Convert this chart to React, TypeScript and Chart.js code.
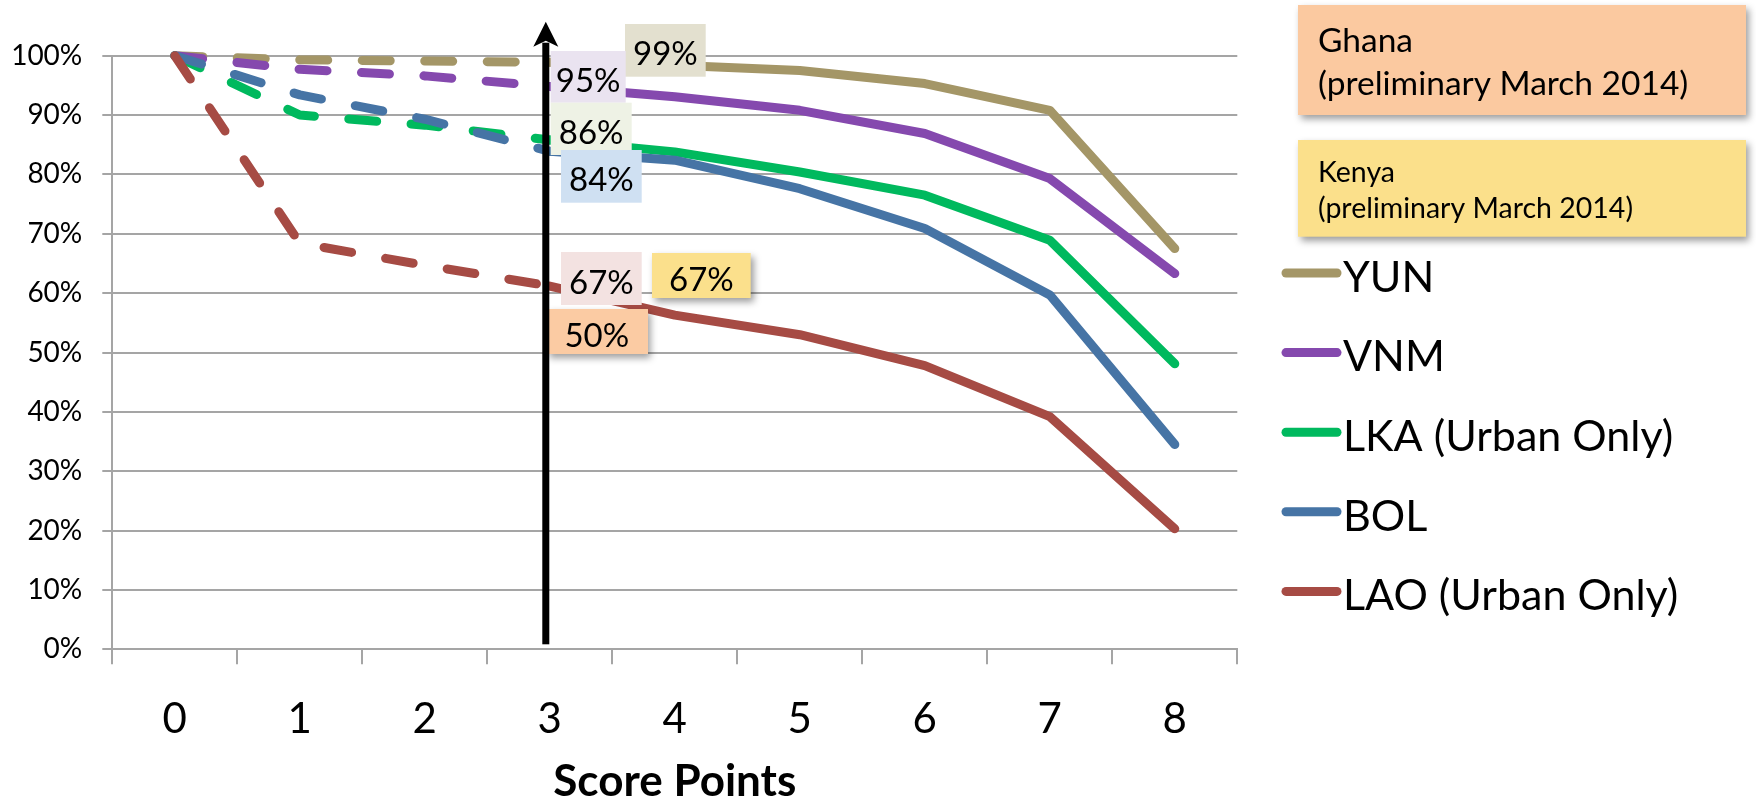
import { useEffect, useRef } from 'react';
import { Chart, registerables } from 'chart.js';

Chart.register(...registerables);

// Score thresholds along the x axis
const scorePoints = ['0', '1', '2', '3', '4', '5', '6', '7', '8'];

// Share of households (%) at or above each score
const yunShare = [100, 99.3, 99.1, 98.9, 98.4, 97.5, 95.3, 90.8, 67.5];
const vnmShare = [100, 97.7, 96.6, 94.8, 93.1, 90.8, 86.9, 79.3, 63.3];
const lkaShare = [100, 90.0, 88.3, 85.8, 83.8, 80.4, 76.5, 68.9, 48.1];
const bolShare = [100, 93.4, 89.3, 83.9, 82.4, 77.6, 70.9, 59.7, 34.5];
const laoShare = [100, 68.4, 64.7, 61.2, 56.3, 53.0, 47.8, 39.2, 20.3];

const seriesNames = ['YUN', 'VNM', 'LKA (Urban Only)', 'BOL', 'LAO (Urban Only)'];
const seriesValues = [yunShare, vnmShare, lkaShare, bolShare, laoShare];
const seriesColors = ['#A49667', '#8549AE', '#00B95E', '#4674A5', '#A64B44'];

// Segments up to this score are dashed, the rest solid
const cutoffScore = 3;

// Percent axis
const yMin = 0;
const yMax = 100;
const yStep = 10;

// Value callouts beside the cut-off arrow
const calloutTexts = ['99%', '95%', '86%', '84%', '67%', '67%', '50%'];
const calloutFills = ['#E3E0CF', '#EAE3F0', '#EEF2E5', '#CFE0F2', '#F3E2E1', '#FBE08C', '#FBCBA3'];

// Country notes in the top right corner
const noteTexts = [
  ['Ghana', '(preliminary March 2014)'],
  ['Kenya', '(preliminary March 2014)'],
];
const noteFills = ['#FBC9A0', '#FBE08B'];

const FONT = 'Lato, "Open Sans", sans-serif';

// Box geometry for the callouts: dx from the cut-off score centre, dy from the plot top
const calloutLayout = [
  { dx: 75.2, dy: -31.7, w: 80.7, h: 52.7, shadow: false },
  { dx: 0.9, dy: -4.7, w: 75, h: 51.7, shadow: false },
  { dx: 0.9, dy: 47, w: 81, h: 52.3, shadow: false },
  { dx: 11.2, dy: 94.3, w: 80.7, h: 52.7, shadow: false },
  { dx: 11.2, dy: 196.3, w: 80.7, h: 53, shadow: false },
  { dx: 102.2, dy: 197.3, w: 98.7, h: 45, shadow: true },
  { dx: -4.3, dy: 253.3, w: 102.5, h: 45, shadow: true },
];

const noteLayout = [
  { x: 1298, y: 5, w: 448, h: 110, size: 33.5, baselines: [51.7, 95] },
  { x: 1298, y: 140, w: 448, h: 96.7, size: 28.5, baselines: [181.7, 218.3] },
];

const legendLayout = { lineX0: 1286, lineX1: 1337, textX: 1343, firstBaseline: 291.7, rowGap: 79.6, size: 43 };

function withShadow(ctx: CanvasRenderingContext2D, on: boolean) {
  if (on) {
    ctx.shadowColor = 'rgba(0,0,0,0.38)';
    ctx.shadowBlur = 7;
    ctx.shadowOffsetX = 3;
    ctx.shadowOffsetY = 4;
  } else {
    ctx.shadowColor = 'transparent';
    ctx.shadowBlur = 0;
    ctx.shadowOffsetX = 0;
    ctx.shadowOffsetY = 0;
  }
}

const overlayPlugin = {
  id: 'cutoffOverlay',
  afterDatasetsDraw(chart: any) {
    const { ctx, chartArea, scales } = chart;
    const xs = scales.x;
    const cx = xs.getPixelForValue(cutoffScore);

    ctx.save();
    // callout boxes
    calloutLayout.forEach((b, i) => {
      const left = cx + b.dx;
      const top = chartArea.top + b.dy;
      withShadow(ctx, b.shadow);
      ctx.fillStyle = calloutFills[i];
      ctx.fillRect(left, top, b.w, b.h);
      withShadow(ctx, false);
      ctx.fillStyle = '#000';
      ctx.font = `33px ${FONT}`;
      ctx.textAlign = 'center';
      ctx.textBaseline = 'alphabetic';
      ctx.fillText(calloutTexts[i], left + b.w / 2, top + b.h / 2 + 15);
    });

    // cut-off arrow
    const ax = cx - 4;
    const tipY = chartArea.top - 34;
    const baseY = tipY + 25;
    ctx.fillStyle = '#000';
    ctx.fillRect(ax - 3.5, baseY - 4, 7, chartArea.bottom - 5 - (baseY - 4));
    ctx.beginPath();
    ctx.moveTo(ax, tipY);
    ctx.lineTo(ax + 12.5, baseY);
    ctx.lineTo(ax, baseY - 6);
    ctx.lineTo(ax - 12.5, baseY);
    ctx.closePath();
    ctx.fill();

    // country notes
    noteLayout.forEach((n, i) => {
      withShadow(ctx, true);
      ctx.fillStyle = noteFills[i];
      ctx.fillRect(n.x, n.y, n.w, n.h);
      withShadow(ctx, false);
      ctx.fillStyle = '#000';
      ctx.font = `${n.size}px ${FONT}`;
      ctx.textAlign = 'left';
      ctx.textBaseline = 'alphabetic';
      noteTexts[i].forEach((t, k) => ctx.fillText(t, n.x + 20, n.baselines[k]));
    });

    // series legend
    chart.data.datasets.forEach((ds: any, i: number) => {
      const base = legendLayout.firstBaseline + i * legendLayout.rowGap;
      const ly = base - 18.7;
      ctx.strokeStyle = ds.borderColor;
      ctx.lineWidth = 9;
      ctx.lineCap = 'round';
      ctx.beginPath();
      ctx.moveTo(legendLayout.lineX0, ly);
      ctx.lineTo(legendLayout.lineX1, ly);
      ctx.stroke();
      ctx.fillStyle = '#000';
      ctx.font = `${legendLayout.size}px ${FONT}`;
      ctx.textAlign = 'left';
      ctx.textBaseline = 'alphabetic';
      ctx.fillText(ds.label, legendLayout.textX, base);
    });
    ctx.restore();
  },
};

export default function App() {
  const canvasRef = useRef<HTMLCanvasElement | null>(null);

  useEffect(() => {
    const canvas = canvasRef.current;
    if (!canvas) return;
    const gridColor = '#A5A5A5';

    const chart = new Chart(canvas, {
      type: 'line',
      data: {
        labels: scorePoints,
        datasets: seriesNames.map((name, i) => ({
          label: name,
          data: seriesValues[i],
          borderColor: seriesColors[i],
          backgroundColor: seriesColors[i],
          borderWidth: 9,
          borderCapStyle: 'round',
          borderJoinStyle: 'round',
          pointRadius: 0,
          pointHoverRadius: 0,
          tension: 0,
          fill: false,
          clip: false,
          order: seriesNames.length - i,
          segment: {
            borderDash: (c: any) => (c.p1DataIndex <= cutoffScore ? [28, 34.5] : undefined),
          },
        })),
      },
      options: {
        animation: false,
        responsive: true,
        maintainAspectRatio: false,
        devicePixelRatio: 1,
        layout: { padding: { left: 0, top: 55.7, right: 518.7, bottom: 0 } },
        plugins: {
          legend: { display: false },
          tooltip: { enabled: false },
          title: { display: false },
        },
        scales: {
          x: {
            type: 'category',
            offset: true,
            grid: {
              drawOnChartArea: false,
              drawTicks: true,
              tickLength: 15,
              color: gridColor,
              lineWidth: 2,
              offset: true,
            },
            border: { display: true, color: gridColor, width: 2 },
            ticks: {
              color: '#000',
              font: { family: FONT, size: 42, lineHeight: 1.2 },
              padding: 30,
              autoSkip: false,
              maxRotation: 0,
            },
            title: {
              display: true,
              text: 'Score Points',
              color: '#000',
              font: { family: FONT, size: 44, weight: 'bold', lineHeight: 1 },
              padding: { top: 0, bottom: -5 },
            },
            afterFit: (s: any) => {
              s.height = 149.7;
            },
          },
          y: {
            min: yMin,
            max: yMax,
            grid: {
              color: gridColor,
              lineWidth: 2,
              drawTicks: true,
              tickLength: 10,
            },
            border: { display: true, color: gridColor, width: 2 },
            ticks: {
              stepSize: yStep,
              color: '#000',
              font: { family: FONT, size: 28 },
              padding: 20,
              callback: (v: any) => `${v}%`,
            },
            afterFit: (s: any) => {
              s.width = 112.3;
            },
          },
        },
      },
      plugins: [overlayPlugin],
    });

    return () => chart.destroy();
  }, []);

  return (
    <div style={{ position: 'absolute', left: 0, top: 0, width: '1756px', height: '799px', background: '#fff' }}>
      <canvas ref={canvasRef} />
    </div>
  );
}
